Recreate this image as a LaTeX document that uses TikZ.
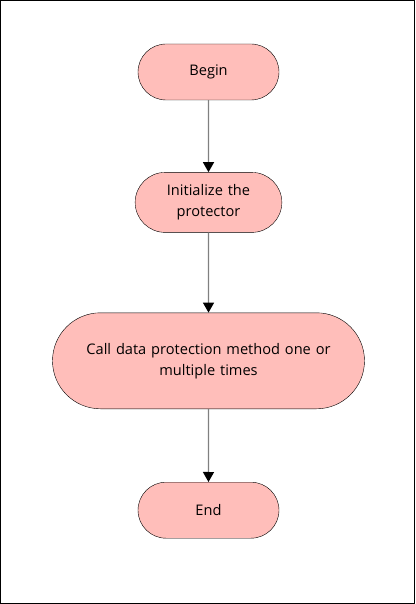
\documentclass[tikz,border=0pt]{standalone}
\usepackage{fontspec}
\setmainfont{Open Sans}
\usetikzlibrary{shapes.misc, arrows.meta, positioning}
\definecolor{stepfill}{HTML}{FFBEBA}
\definecolor{linegray}{HTML}{808080}
\tikzstyle{terminal} = [draw, rounded rectangle, minimum height=56pt, minimum width=141pt, text centered, align=center, fill=stepfill, font=\fontsize{14.6}{21}\selectfont, inner sep=0pt]
\tikzstyle{arrow} = [draw=linegray, line width=1.4pt, -{Triangle[length=10pt, width=11pt, fill=black, color=black]}]

\begin{document}
\begin{tikzpicture}[x=1pt, y=1pt]
            % frame
            \draw[line width=1pt] (0.5,-0.5) rectangle (414.5,-603.5);
            \useasboundingbox (0,0) rectangle (415,-604);

            % Flow steps
            \node (Begin) [terminal] at (208.5,-72) {Begin};
            \node (InitProtector) [terminal, below=72pt of Begin, minimum height=60pt, text width=135pt] {Initialize the\\protector};
            \node (CallProtect) [terminal, below=80pt of InitProtector, minimum height=96pt, minimum width=312pt, text width=295pt] {Call data protection method one or\\multiple times};
            \node (End) [terminal, below=73pt of CallProtect] {End};

            % Arrows
            \draw [arrow] (Begin) -- (InitProtector);
            \draw [arrow] (InitProtector) -- (CallProtect);
            \draw [arrow] (CallProtect) -- (End);
        \end{tikzpicture}
\end{document}
